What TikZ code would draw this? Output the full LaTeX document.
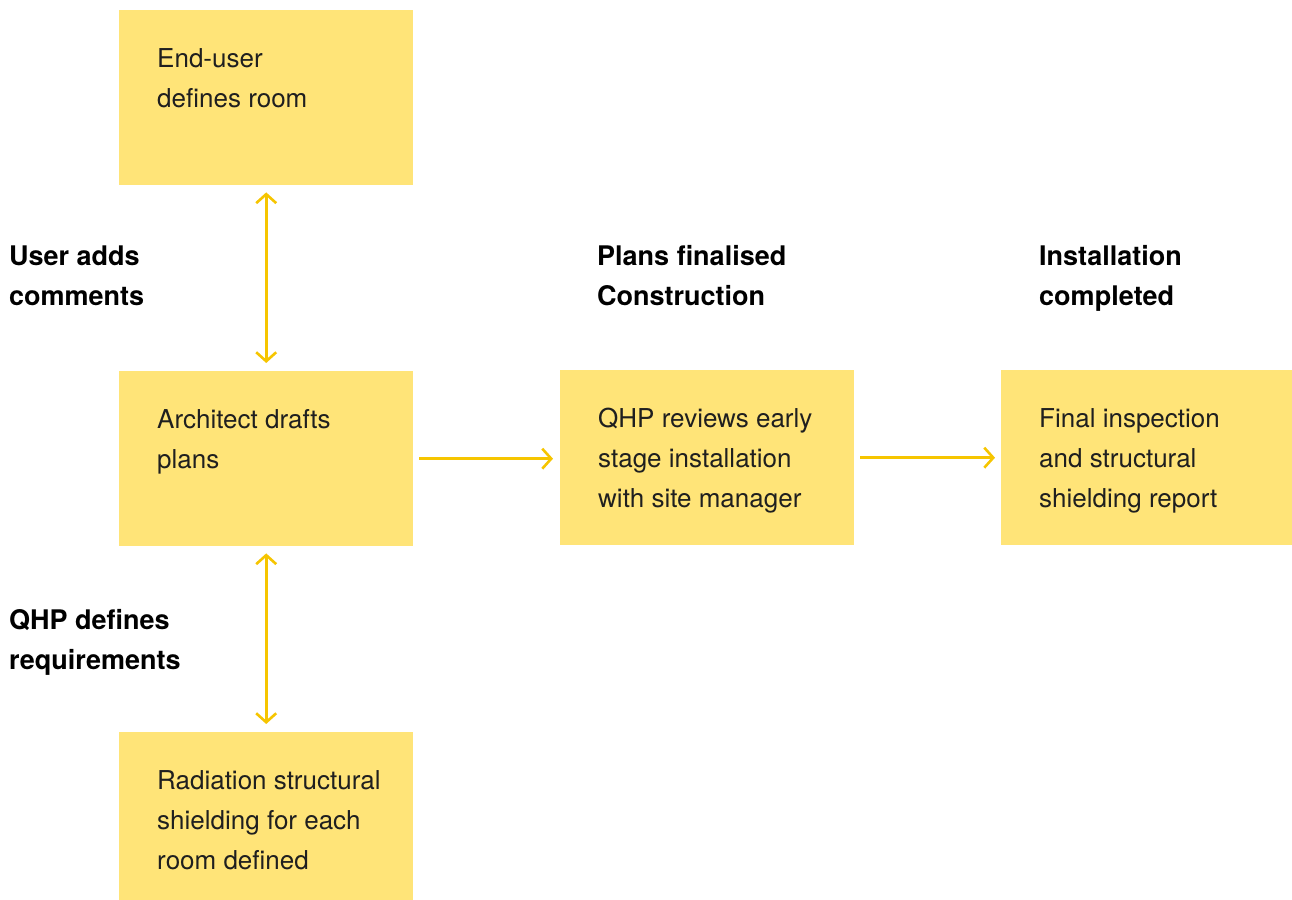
\documentclass[tikz,border=0pt]{standalone}
\usepackage{fontspec}
\setmainfont{TeX Gyre Heros}
\usetikzlibrary{arrows.meta}
\definecolor{boxfill}{RGB}{255,228,120}
\definecolor{arrowcol}{RGB}{246,197,0}
\tikzset{
  stepbox/.style={draw=none, fill=boxfill, rectangle, inner sep=0pt, anchor=north west, minimum width=#1, minimum height=175pt},
  boxtext/.style={anchor=base west, inner sep=0pt, align=left, font=\fontsize{26}{40}\selectfont, text=black!88},
  phase/.style={anchor=base west, inner sep=0pt, align=left, font=\fontsize{27}{40}\selectfont\bfseries},
  flow/.style={draw=arrowcol, line width=2.6pt, -{Straight Barb[length=9pt,width=20pt]}},
  flowboth/.style={draw=arrowcol, line width=2.6pt, {Straight Barb[length=9pt,width=20pt]}-{Straight Barb[length=9pt,width=20pt]}}
}
\begin{document}
\begin{tikzpicture}[x=1pt,y=-1pt]
\useasboundingbox (0,0) rectangle (1292,899);
\node[stepbox=294pt] (A) at (119,10) {};
\node[stepbox=294pt] (B) at (119,371) {};
\node[stepbox=294pt, minimum height=168pt] (C) at (119,732) {};
\node[stepbox=294pt] (D) at (560,370) {};
\node[stepbox=291pt] (E) at (1001,370) {};

% anchors are at the baseline of the last line
\node[boxtext] (tA) at (157,107) {End-user\\defines room};
\node[boxtext] (tB) at (157,468) {Architect drafts\\plans};
\node[boxtext] (tC) at (157,869) {Radiation structural\\shielding for each\\room defined};
\node[boxtext] (tD) at (598,507) {QHP reviews early\\stage installation\\with site manager};
\node[boxtext] (tE) at (1039,507) {Final inspection\\and structural\\shielding report};

\node[phase] (l1) at (9,305) {User adds\\comments};
\node[phase] (l2) at (9,669) {QHP defines\\requirements};
\node[phase] (l3) at (597,305) {Plans finalised\\Construction};
\node[phase] (l4) at (1039,305) {Installation\\completed};

\draw[flowboth, shorten <=7pt, shorten >=8pt] (A.south) -- (B.north);
\draw[flowboth, shorten <=7pt, shorten >=8pt] (B.south) -- (C.north);
\draw[flow, shorten <=6pt, shorten >=7pt] (B.east) -- (B.east -| D.west);
\draw[flow, shorten <=6pt, shorten >=6pt] (D.east) -- (D.east -| E.west);
\end{tikzpicture}
\end{document}
